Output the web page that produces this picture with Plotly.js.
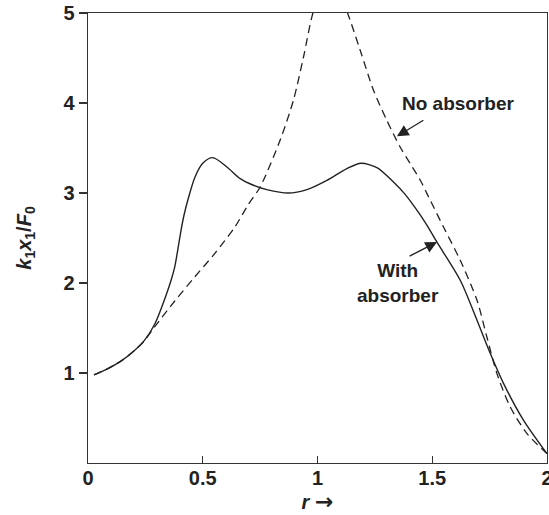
<!DOCTYPE html>
<html>
<head>
<meta charset="utf-8">
<script src="https://cdn.plot.ly/plotly-3.0.1.min.js"></script>
<style>html,body{margin:0;padding:0;background:#fff}#chart{width:549px;height:515px}</style>
</head>
<body>
<div id="chart"></div>
<script>
// Response curve with absorber (solid)
const withX = [0.026,0.080,0.145,0.200,0.245,0.291,0.342,0.362,0.378,0.392,0.405,0.418,0.436,0.465,0.500,0.544,0.605,0.663,0.721,0.779,0.873,0.954,1.041,1.128,1.190,1.259,1.331,1.380,1.430,1.480,1.520,1.622,1.695,1.753,1.811,1.898,2.000];
const withY = [0.98,1.04,1.135,1.245,1.360,1.545,1.877,2.030,2.180,2.380,2.580,2.750,2.930,3.170,3.330,3.393,3.289,3.160,3.086,3.038,3.000,3.038,3.141,3.271,3.330,3.282,3.122,2.990,2.820,2.630,2.456,2.030,1.586,1.216,0.882,0.474,0.104];
// Response curve without absorber (dashed)
const noX = [0.026,0.080,0.145,0.200,0.245,0.291,0.378,0.465,0.552,0.640,0.698,0.750,0.837,0.895,0.939,0.980,1.050,1.131,1.186,1.244,1.302,1.360,1.404,1.448,1.477,1.549,1.622,1.695,1.738,1.782,1.840,1.913,2.000];
const noY = [0.98,1.04,1.135,1.245,1.355,1.515,1.800,2.067,2.327,2.622,2.870,3.067,3.586,4.030,4.511,5.000,5.500,5.000,4.586,4.141,3.808,3.511,3.327,3.141,2.993,2.622,2.252,1.808,1.400,0.993,0.622,0.327,0.104];
const xTicks = [0,0.5,1,1.5,2];
const xTickText = ['0','0.5','1','1.5','2'];
const yTicks = [1,2,3,4,5];
const yTickText = ['1','2','3','4','5'];

const ink = '#222';
const fontFam = 'Liberation Sans, Arial, sans-serif';

const traces = [
  {x: noX, y: noY, type: 'scatter', mode: 'lines', name: 'No absorber',
   line: {color: ink, width: 1.3, dash: '8px,5px', shape: 'spline', smoothing: 0.8}},
  {x: withX, y: withY, type: 'scatter', mode: 'lines', name: 'With absorber',
   line: {color: ink, width: 1.4, shape: 'spline', smoothing: 0.8}}
];

const layout = {
  width: 549, height: 515,
  margin: {l: 88, r: 2, t: 13, b: 52},
  paper_bgcolor: '#fff', plot_bgcolor: '#fff',
  showlegend: false,
  font: {family: fontFam, color: ink, size: 19, weight: 'bold'},
  xaxis: {
    range: [0, 2], tickvals: xTicks, ticktext: xTickText,
    ticks: 'inside', ticklen: 7, tickwidth: 1.2, tickcolor: '#333',
    showline: true, mirror: true, linecolor: '#333', linewidth: 1.3,
    showgrid: false, zeroline: false, ticklabeloverflow: 'allow', ticklabelstandoff: -3,
    tickfont: {family: fontFam, size: 20, color: ink, weight: 'bold'},
    title: {text: '<i>r</i> <span style="font-family:DejaVu Sans;font-size:22px">\u2192</span>', font: {family: fontFam, size: 20, color: ink, weight: 'bold'}, standoff: 4}
  },
  yaxis: {
    range: [0, 5], tickvals: yTicks, ticktext: yTickText,
    ticks: 'outside', ticklen: 8, tickwidth: 1.2, tickcolor: '#333',
    showline: true, mirror: true, linecolor: '#333', linewidth: 1.3,
    showgrid: false, zeroline: false, automargin: true,
    tickfont: {family: fontFam, size: 20, color: ink, weight: 'bold'},
    title: {text: '<i>k</i><sub>1</sub><i>x</i><sub>1</sub>/<i>F</i><sub>0</sub>', font: {family: fontFam, size: 20, color: ink, weight: 'bold'}, standoff: 26}
  },
  annotations: [
    {x: 1.614, y: 3.99, xref: 'x', yref: 'y', text: 'No absorber', showarrow: false,
     font: {family: fontFam, size: 19, color: ink, weight: 'bold'}},
    {x: 1.346, y: 3.63, xref: 'x', yref: 'y', text: '', showarrow: true,
     ax: 28, ay: -17, arrowhead: 2, arrowsize: 1.8, arrowwidth: 1.3, arrowcolor: ink, standoff: 0},
    {x: 1.351, y: 2.0, xref: 'x', yref: 'y', text: 'With<br>absorber', showarrow: false,
     font: {family: fontFam, size: 19, color: ink, weight: 'bold'}},
    {x: 1.521, y: 2.456, xref: 'x', yref: 'y', text: '', showarrow: true,
     ax: -29, ay: 15, arrowhead: 2, arrowsize: 1.8, arrowwidth: 1.3, arrowcolor: ink, standoff: 0}
  ]
};

Plotly.newPlot('chart', traces, layout, {displayModeBar: false, staticPlot: true});
</script>
</body>
</html>
